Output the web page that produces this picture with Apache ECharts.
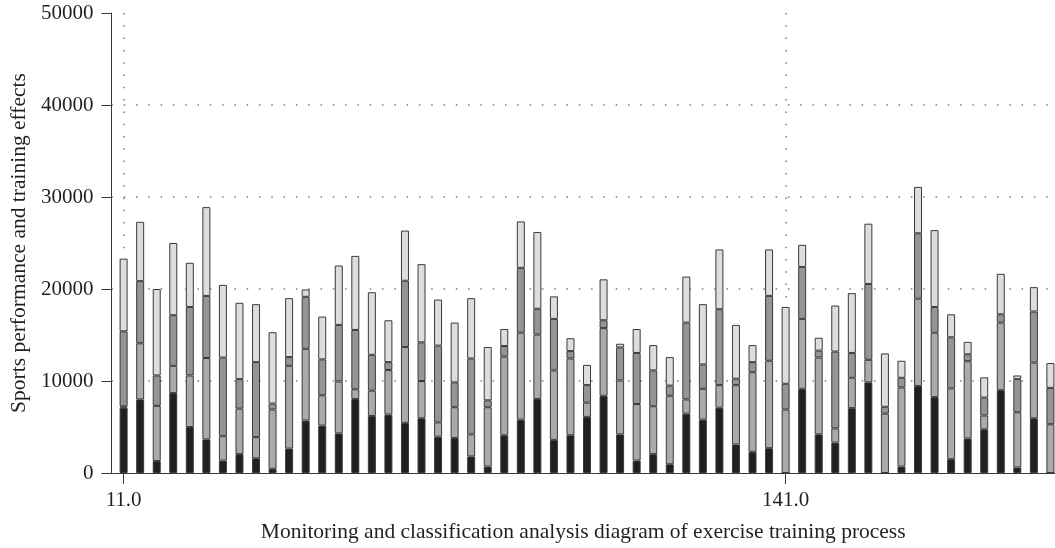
<!DOCTYPE html>
<html>
<head>
<meta charset="utf-8">
<script src="https://cdn.jsdelivr.net/npm/echarts@6/dist/echarts.min.js"></script>
<style>
html,body{margin:0;padding:0;background:#fff;}
#chart{width:1055px;height:548px;}
</style>
</head>
<body>
<div id="chart"></div>
<script>
// x positions of the bars
var xPositions = [11, 14.25, 17.5, 20.75, 24, 27.25, 30.5, 33.75, 37, 40.25, 43.5, 46.75, 50, 53.25, 56.5, 59.75, 63, 66.25, 69.5, 72.75, 76, 79.25, 82.5, 85.75, 89, 92.25, 95.5, 98.75, 102, 105.25, 108.5, 111.75, 115, 118.25, 121.5, 124.75, 128, 131.25, 134.5, 137.75, 141, 144.25, 147.5, 150.75, 154, 157.25, 160.5, 163.75, 167, 170.25, 173.5, 176.75, 180, 183.25, 186.5, 189.75, 193];
// stacked segment values (bottom to top)
var seg1 = [7100, 8000, 1300, 8700, 5000, 3650, 1350, 2050, 1600, 450, 2650, 5700, 5150, 4300, 8050, 6200, 6350, 5450, 5950, 3950, 3800, 1800, 700, 4100, 5800, 8050, 3600, 4100, 6100, 8400, 4200, 1350, 2050, 950, 6450, 5800, 7100, 3100, 2300, 2700, 0, 9150, 4200, 3300, 7050, 9850, 0, 700, 9450, 8250, 1500, 3750, 4750, 9000, 600, 5950, 0];
var seg2 = [150, 6100, 6000, 2950, 5600, 8850, 2650, 4950, 2300, 6450, 9000, 7800, 3300, 5650, 1050, 2750, 4850, 8250, 4050, 1550, 3350, 2400, 6450, 8550, 9450, 7000, 7550, 8350, 1550, 7350, 5850, 6150, 5200, 7450, 1550, 3350, 2450, 6450, 8650, 9500, 6900, 7600, 8350, 1550, 3300, 2450, 6450, 8600, 9500, 7000, 7700, 8400, 1500, 7350, 6000, 6050, 5300];
var seg3 = [8150, 6750, 3300, 5500, 7450, 6750, 8550, 3200, 8150, 650, 950, 5650, 3900, 6150, 6450, 3900, 850, 7200, 4200, 8350, 2700, 8250, 750, 1150, 7050, 2800, 5600, 800, 1900, 850, 3600, 5550, 3900, 1100, 8350, 2650, 8250, 700, 1100, 7050, 2800, 5650, 750, 8350, 2700, 8250, 750, 1050, 7100, 2800, 5550, 750, 1950, 900, 3600, 5550, 3950];
var seg4 = [7900, 6450, 9400, 7850, 4800, 9650, 7900, 8300, 6300, 7750, 6400, 800, 4650, 6450, 8050, 6800, 4550, 5450, 8500, 5000, 6500, 6550, 5800, 1850, 5050, 8350, 2450, 1400, 2200, 4450, 400, 2600, 2750, 3100, 5000, 6550, 6500, 5850, 1850, 5050, 8350, 2400, 1400, 5000, 6500, 6550, 5800, 1850, 5050, 8350, 2500, 1350, 2200, 4400, 400, 2650, 2700];
var xTickValues = [11, 141];
var yTicks = [0, 10000, 20000, 30000, 40000, 50000];
var xAxisTitle = 'Monitoring and classification analysis diagram of exercise training process';
var yAxisTitle = 'Sports performance and training effects';

var segColors = ['#231f20', '#a8aaad', '#939598', '#dcddde'];
var segData = [seg1, seg2, seg3, seg4];
var FONT = '"Liberation Serif", "DejaVu Serif", serif';
var TEXT = '#231f20';
var AXIS = '#3a3a3a';
var DOT = {color: '#7a7a7a', width: 1.5, type: [1.5, 10.8]};

// data rows are [value, x] so that the stacked dimension is the value (y)
var series = segData.map(function (arr, k) {
  return {
    type: 'bar',
    stack: 'total',
    barWidth: 8,
    dimensions: [{name: 'v', type: 'number'}, {name: 'x', type: 'number'}],
    encode: {x: 1, y: 0},
    data: arr.map(function (v, i) { return [v, xPositions[i]]; }),
    itemStyle: {color: segColors[k], borderColor: AXIS, borderWidth: 1},
    emphasis: {disabled: true},
    animation: false
  };
});

var chart = echarts.init(document.getElementById('chart'), null, {renderer: 'canvas'});
chart.setOption({
  backgroundColor: '#ffffff',
  animation: false,
  grid: {left: 110, right: 0, top: 13, bottom: 74, containLabel: false},
  xAxis: {
    type: 'value',
    min: 8.6,
    max: 193.9,
    name: xAxisTitle,
    nameLocation: 'middle',
    nameGap: 48,
    nameTextStyle: {fontFamily: FONT, fontSize: 21.5, color: TEXT},
    axisLine: {show: true, lineStyle: {color: AXIS, width: 1}},
    axisTick: {show: true, length: 11, customValues: xTickValues, lineStyle: {color: AXIS}},
    axisLabel: {show: true, customValues: xTickValues, margin: 17, fontFamily: FONT, fontSize: 21, color: TEXT,
      formatter: function (v) { return Number(v).toFixed(1); }},
    splitLine: {show: true, customValues: xTickValues, lineStyle: DOT}
  },
  yAxis: {
    type: 'value',
    min: yTicks[0],
    max: yTicks[yTicks.length - 1],
    interval: 10000,
    name: yAxisTitle,
    nameLocation: 'middle',
    nameGap: 79,
    nameTextStyle: {fontFamily: FONT, fontSize: 21.5, color: TEXT},
    axisLine: {show: true, lineStyle: {color: AXIS, width: 1}},
    axisTick: {show: true, length: 10, lineStyle: {color: AXIS}},
    axisLabel: {margin: 18, fontFamily: FONT, fontSize: 21, color: TEXT,
      formatter: function (v) { return String(v); }},
    splitLine: {show: true, showMinLine: false, showMaxLine: false, lineStyle: DOT}
  },
  series: series
});
</script>
</body>
</html>
